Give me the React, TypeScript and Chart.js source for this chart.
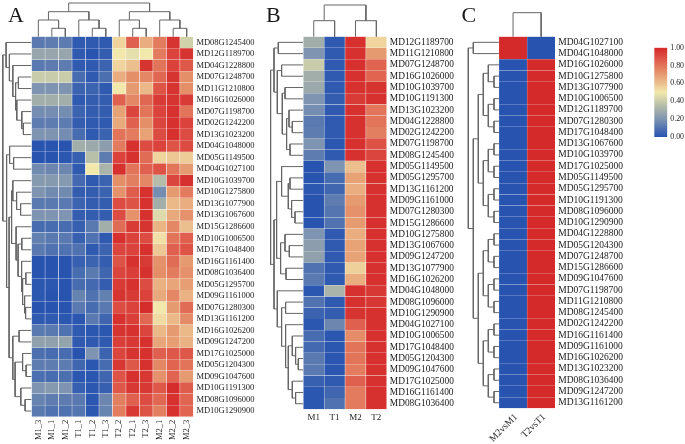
import React, { useEffect, useRef } from "react";
import { Chart, registerables } from "chart.js";

Chart.register(...registerables);

type Tree = number | [number, Tree, Tree];

// Colour legend
const legendTicks = [0, 0.2, 0.4, 0.6, 0.8, 1];
const colorStops: [number, [number, number, number]][] = [
  [0, [40, 84, 176]],
  [0.1, [80, 114, 176]],
  [0.2, [126, 148, 176]],
  [0.3, [162, 174, 170]],
  [0.4, [200, 204, 170]],
  [0.5, [242, 232, 172]],
  [0.6, [236, 192, 142]],
  [0.7, [230, 154, 112]],
  [0.8, [226, 116, 90]],
  [0.9, [220, 76, 66]],
  [1, [212, 42, 42]],
];

// Panel A
const aColumns = ["M1_3", "M1_1", "M1_2", "T1_1", "T1_2", "T1_3", "T2_2", "T2_1", "T2_3", "M2_1", "M2_2", "M2_3"];
const aGenes = [
  "MD08G1245400", "MD12G1189700", "MD04G1228800", "MD07G1248700", "MD11G1210800", "MD16G1026000", "MD07G1198700",
  "MD02G1242200", "MD13G1023200", "MD04G1048000", "MD05G1149500", "MD04G1027100", "MD10G1039700", "MD10G1275800",
  "MD13G1077900", "MD13G1067600", "MD15G1286600", "MD10G1006500", "MD17G1048400", "MD16G1161400", "MD08G1036400",
  "MD05G1295700", "MD09G1161000", "MD07G1280300", "MD13G1161200", "MD16G1026200", "MD09G1247200", "MD17G1025000",
  "MD05G1204300", "MD09G1047600", "MD10G1191300", "MD08G1096000", "MD10G1290900",
];
const aValues = [
  [.12, .13, .13, .02, .02, .02, .55, .85, .65, .78, .97, .42],
  [.27, .27, .27, .02, 0, .03, .5, .47, .5, .78, .93, .97],
  [.12, .13, .13, .02, .02, .05, .55, .6, .97, .8, .93, .87],
  [.4, .4, .4, .08, .02, .09, .65, .73, .75, .83, .97, .73],
  [.2, .2, .2, .05, .05, .02, .5, .7, .62, .88, .97, .73],
  [.3, .3, .3, .02, .03, .03, .85, .75, .83, .95, .97, .95],
  [.18, .18, .18, .05, .03, .03, .68, .92, .8, .93, .98, .8],
  [.13, .13, .13, .03, .02, .02, .66, .85, .73, .92, .98, .93],
  [.2, .2, .18, .08, .02, .05, .8, .78, .68, .9, .98, .9],
  [0, 0, 0, .3, .28, .24, .78, .98, .9, .93, .88, .9],
  [0, 0, .01, .04, .36, .13, .93, .98, .82, .55, .58, .57],
  [.17, .16, .16, .02, .5, .32, .98, .8, .85, .88, .8, .7],
  [.22, .22, .22, .07, .02, .05, .73, .77, .75, .35, .92, .98],
  [.2, .17, .17, .03, .03, .05, .72, .86, .98, .18, .7, .78],
  [.12, .12, .12, .05, .03, .03, .9, .88, .98, .3, .62, .65],
  [.2, .2, .2, .03, .03, .03, .9, .72, .98, .45, .66, .72],
  [.08, .08, .08, .04, .12, .3, .82, .95, .97, .63, .75, .6],
  [.14, .12, .12, .04, .1, .02, .98, .93, .9, .52, .8, .85],
  [.12, .1, .1, .1, .02, .05, .92, .93, .98, .58, .85, .88],
  [0, 0, 0, .04, .05, .03, .88, .98, .95, .72, .82, .7],
  [0, 0, 0, .08, .12, .06, .92, .94, .98, .73, .78, .72],
  [.01, .01, 0, .08, .07, .03, .95, .98, .9, .64, .67, .69],
  [.01, 0, 0, .15, .1, .14, .97, .95, .93, .66, .75, .64],
  [0, 0, 0, .12, .08, .12, .9, .93, .99, .5, .7, .82],
  [.02, .02, .01, .01, .12, .06, .98, .94, .83, .53, .62, .74],
  [.12, .12, .1, .02, .01, .01, .97, .98, .92, .62, .7, .62],
  [.25, .25, .26, .02, .02, .02, .94, .96, .98, .67, .69, .64],
  [.09, .08, .08, 0, .2, .05, .92, .97, .98, .85, .87, .87],
  [.13, .13, .13, .06, .01, .08, .96, .87, .98, .75, .84, .8],
  [.09, .08, .09, .01, .01, .06, .88, .98, .96, .72, .84, .7],
  [.2, .22, .2, .04, .01, .04, .87, .96, .96, .87, .99, .86],
  [.15, .13, .13, .12, .01, .16, .77, .85, .9, .83, .98, .84],
  [.12, .1, .1, .11, .01, .15, .78, .96, .88, .77, .98, .84],
];
const aColumnTree: Tree = [33.7,
  [25, [16.7, 0, [8.4, 1, 2]], [16.7, 3, [8.4, 4, 5]]],
  [25, [16.7, 6, [8.4, 7, 8]], [16.7, 9, [8.4, 10, 11]]],
];
const aRowTree: Tree = [28.8,
  [25.5, 0, [22.2, 1, [18.8, 2, [16, [13.2, 3, 4], [14.8, 5, [9.8, 6, [8.2, 7, 8]]]]]]],
  [25, [22, 9, [18, 10, 11]],
    [22.5,
      [20, [18.8, 12, [15, 13, [11, 14, 15]]],
        [15.5, 16, [13.5, [9.8, 17, 18], [10, 19, [9, [5.8, 20, 21], [7, 22, [6, 23, 24]]]]]]],
      [18.8, [12.5, 25, 26], [16.5, [9, 27, [5.5, 28, 29]], [10.8, 30, [6.5, 31, 32]]]],
    ],
  ],
];

// Panel B
const bColumns = ["M1", "T1", "M2", "T2"];
const bGenes = [
  "MD12G1189700", "MD11G1210800", "MD07G1248700", "MD16G1026000", "MD10G1039700", "MD10G1191300", "MD13G1023200",
  "MD04G1228800", "MD02G1242200", "MD07G1198700", "MD08G1245400", "MD05G1149500", "MD05G1295700", "MD13G1161200",
  "MD09G1161000", "MD07G1280300", "MD15G1286600", "MD10G1275800", "MD13G1067600", "MD09G1247200", "MD13G1077900",
  "MD16G1026200", "MD04G1048000", "MD08G1096000", "MD10G1290900", "MD04G1027100", "MD10G1006500", "MD17G1048400",
  "MD05G1204300", "MD09G1047600", "MD17G1025000", "MD16G1161400", "MD08G1036400",
];
const bValues = [
  [.3, .02, .98, .55], [.2, .02, .98, .7], [.4, .02, .98, .84], [.3, .02, .98, .84], [.28, .02, .98, .97],
  [.2, .03, .95, .98], [.18, .02, .98, .8], [.12, .02, .98, .8], [.13, .02, .98, .77], [.2, .01, .98, .88],
  [.13, .02, .98, .92], [0, .2, .6, .98], [0, .08, .68, .98], [.01, .06, .65, .98], [0, .13, .7, .98],
  [0, .11, .72, .98], [0, .1, .7, .98], [.2, .02, .65, .98], [.24, .02, .68, .98], [.25, .02, .68, .98],
  [.1, .02, .56, .98], [.12, .02, .65, .98], [.01, .32, .98, .96], [.1, .02, .98, .96], [.05, .03, .97, .98],
  [.01, .16, .85, .98], [.08, .01, .74, .98], [.07, .01, .8, .98], [.12, .01, .8, .98], [.12, .01, .78, .98],
  [.04, .02, .85, .98], [.01, .06, .78, .98], [.01, .1, .78, .98],
];
const bColumnTree: Tree = [31.7, [16, 0, 1], [16, 2, 3]];
const bRowTree: Tree = [32.7,
  [29.3, [25, 0, 1],
    [26, [21.7, 2, 3], [21, [18.3, 4, 5], [16.7, [14.3, 6, [11, 7, 8]], [13.3, 9, 10]]]]],
  [29.3,
    [26.7, [21.7, 11, [15, [13.3, 12, 13], [11.7, 14, [8.3, 15, 16]]]],
      [22.7, [18.3, 17, [14, 18, 19]], [17.3, 20, 21]]],
    [26, 22, [21.7, [17.7, 23, 24],
      [17.7, 25, [15, [11, 26, [7.7, 27, [5, 28, 29]]], [11, 30, [7.7, 31, 32]]]]]],
  ],
];

// Panel C
const cColumns = ["M2vsM1", "T2vsT1"];
const cGenes = [
  "MD04G1027100", "MD04G1048000", "MD16G1026000", "MD10G1275800", "MD13G1077900", "MD10G1006500", "MD12G1189700",
  "MD07G1280300", "MD17G1048400", "MD13G1067600", "MD10G1039700", "MD17G1025000", "MD05G1149500", "MD05G1295700",
  "MD10G1191300", "MD08G1096000", "MD10G1290900", "MD04G1228800", "MD05G1204300", "MD07G1248700", "MD15G1286600",
  "MD09G1047600", "MD07G1198700", "MD11G1210800", "MD08G1245400", "MD02G1242200", "MD16G1161400", "MD09G1161000",
  "MD16G1026200", "MD13G1023200", "MD08G1036400", "MD09G1247200", "MD13G1161200",
];
const cM2vsM1 = [1, 1, 0, 0, 0, 0, 0, 0, 0, 0, 0, 0, 0, 0, 0, 0, 0, 0, 0, 0, 0, 0, 0, 0, 0, 0, 0, 0, 0, 0, 0, 0, 0];
const cT2vsT1 = [0, 0, 1, 1, 1, 1, 1, 1, 1, 1, 1, 1, 1, 1, 1, 1, 1, 1, 1, 1, 1, 1, 1, 1, 1, 1, 1, 1, 1, 1, 1, 1, 1];
const cColumnTree: Tree = [24, 0, 1];
const cRowTree: Tree = [30.7,
  [25.7, 0, 1],
  [25.7,
    [20.7,
      [15.7, [10.7, 2, [5, 3, 4]], [10.7, [5, 5, 6], [5, 7, 8]]],
      [15.7, [10.7, [5, 9, 10], [5, 11, 12]], [10.7, [5, 13, 14], [5, 15, 16]]],
    ],
    [20.7,
      [15.7, [10.7, [5, 17, 18], [5, 19, 20]], [10.7, [5, 21, 22], [5, 23, 24]]],
      [15.7, [10.7, [5, 25, 26], [5, 27, 28]], [10.7, [5, 29, 30], [5, 31, 32]]],
    ],
  ],
];

function colorOf(v: number): string {
  for (let i = 1; i < colorStops.length; i++) {
    const [p0, c0] = colorStops[i - 1];
    const [p1, c1] = colorStops[i];
    if (v <= p1) {
      const t = (v - p0) / (p1 - p0);
      const c = c0.map((a, k) => Math.round(a + (c1[k] - a) * t));
      return `rgb(${c[0]},${c[1]},${c[2]})`;
    }
  }
  const c = colorStops[colorStops.length - 1][1];
  return `rgb(${c[0]},${c[1]},${c[2]})`;
}

// Dendrogram segments, separated by gaps, from a merge tree.
function walk(tree: Tree, out: { leaf: number; d: number }[][]): { leaf: number; d: number } {
  if (typeof tree === "number") return { leaf: tree + 0.5, d: 0 };
  const [d, l, r] = tree;
  const a = walk(l, out);
  const b = walk(r, out);
  out.push([
    { leaf: a.leaf, d: a.d },
    { leaf: a.leaf, d },
    { leaf: b.leaf, d },
    { leaf: b.leaf, d: b.d },
  ]);
  return { leaf: (a.leaf + b.leaf) / 2, d };
}

function dendroData(tree: Tree, map: (leaf: number, d: number) => { x: number; y: number }) {
  const paths: { leaf: number; d: number }[][] = [];
  walk(tree, paths);
  const data: { x: number; y: number }[] = [];
  paths.forEach((p) => {
    p.forEach((q) => data.push(map(q.leaf, q.d)));
    data.push({ x: NaN, y: NaN });
  });
  return data;
}

const FONT = "'Liberation Serif'";
const TEXT = "#1a1a1a";

type Panel = {
  columns: string[];
  genes: string[];
  values: number[][];
  columnTree: Tree;
  rowTree: Tree;
  canvasLeft: number;
  canvasWidth: number;
  heatLeft: number;
  heatRight: number;
  heatTop: number;
  heatBottom: number;
  rootLeft: number;
  rootTop: number;
  geneFont: number;
  colFont: number;
  rotation: number;
  colPad: number;
  colOffset: number;
  cellBorder: number;
};

const panels: Panel[] = [
  {
    columns: aColumns, genes: aGenes, values: aValues, columnTree: aColumnTree, rowTree: aRowTree,
    canvasLeft: 0, canvasWidth: 262, heatLeft: 31.6, heatRight: 193.4, heatTop: 36.7, heatBottom: 416.8,
    rootLeft: 2.7, rootTop: 3, geneFont: 8.5, colFont: 8.5, rotation: 90, colPad: 3, colOffset: 0, cellBorder: 0.5,
  },
  {
    columns: bColumns, genes: bGenes, values: bValues, columnTree: bColumnTree, rowTree: bRowTree,
    canvasLeft: 265, canvasWidth: 195, heatLeft: 303.3, heatRight: 386.8, heatTop: 36.7, heatBottom: 409.4,
    rootLeft: 270.6, rootTop: 5, geneFont: 9.4, colFont: 9, rotation: 0, colPad: 3, colOffset: 0, cellBorder: 0.5,
  },
  {
    columns: cColumns, genes: cGenes, values: [], columnTree: cColumnTree, rowTree: cRowTree,
    canvasLeft: 462, canvasWidth: 180, heatLeft: 499, heatRight: 555.2, heatTop: 36.7, heatBottom: 408.4,
    rootLeft: 468.3, rootTop: 12.7, geneFont: 9.5, colFont: 9.6, rotation: 45, colPad: 3, colOffset: 3, cellBorder: 0.4,
  },
];
panels[2].values = cGenes.map((_, i) => [cM2vsM1[i], cT2vsT1[i]]);

function buildHeatConfig(p: Panel): any {
  const colW = (p.heatRight - p.heatLeft) / p.columns.length;
  const rowH = (p.heatBottom - p.heatTop) / p.genes.length;
  const cells: { x: number; y: [number, number]; v: number }[] = [];
  p.values.forEach((row, r) =>
    row.forEach((v, c) => cells.push({ x: c + 0.5, y: [r, r + 1], v }))
  );
  const lineBase = {
    type: "line",
    borderColor: "#666666",
    borderWidth: 1,
    pointRadius: 0,
    tension: 0,
    spanGaps: false,
    clip: false,
  };
  return {
    type: "bar",
    data: {
      datasets: [
        {
          type: "bar",
          data: cells,
          backgroundColor: (ctx: any) => (ctx.raw ? colorOf(ctx.raw.v) : "#fff"),
          borderColor: "rgba(255,255,255,0.75)",
          borderWidth: p.cellBorder,
          barPercentage: 1,
          categoryPercentage: 1,
          grouped: false,
        },
        { ...lineBase, data: dendroData(p.columnTree, (leaf, d) => ({ x: leaf, y: -d / rowH })) },
        { ...lineBase, data: dendroData(p.rowTree, (leaf, d) => ({ x: -d / colW, y: leaf })) },
      ],
    },
    options: {
      animation: false,
      responsive: false,
      layout: { padding: { left: p.rootLeft - p.canvasLeft, top: p.rootTop, right: 0, bottom: 0 } },
      plugins: { legend: { display: false }, tooltip: { enabled: false }, title: { display: false } },
      scales: {
        x: {
          type: "linear",
          offset: false,
          min: -(p.heatLeft - p.rootLeft) / colW,
          max: p.columns.length,
          grid: { display: false, drawTicks: false },
          border: { display: false },
          afterBuildTicks: (s: any) => {
            s.ticks = p.columns.map((_, i) => ({ value: i + 0.5 }));
          },
          afterFit: (s: any) => {
            s.height = 444 - p.heatBottom;
            s.paddingLeft = 0;
            s.paddingRight = 0;
          },
          ticks: {
            autoSkip: false,
            minRotation: p.rotation,
            maxRotation: p.rotation,
            padding: p.colPad,
            labelOffset: p.colOffset,
            color: TEXT,
            font: { family: FONT, size: p.colFont },
            callback: (_: any, i: number) => p.columns[i],
          },
        },
        y: {
          type: "linear",
          position: "right",
          reverse: true,
          min: -(p.heatTop - p.rootTop) / rowH,
          max: p.genes.length,
          grid: { display: false, drawTicks: false },
          border: { display: false },
          afterBuildTicks: (s: any) => {
            s.ticks = p.genes.map((_, i) => ({ value: i + 0.5 }));
          },
          afterFit: (s: any) => {
            s.width = p.canvasLeft + p.canvasWidth - p.heatRight;
            s.paddingTop = 0;
            s.paddingBottom = 0;
          },
          ticks: {
            autoSkip: false,
            padding: 3,
            color: TEXT,
            font: { family: FONT, size: p.geneFont },
            callback: (_: any, i: number) => p.genes[i],
          },
        },
      },
    },
  };
}

function HeatPanel({ panel }: { panel: Panel }) {
  const ref = useRef<HTMLCanvasElement>(null);
  useEffect(() => {
    const chart = new Chart(ref.current!, buildHeatConfig(panel));
    return () => chart.destroy();
  }, [panel]);
  return (
    <canvas
      ref={ref}
      width={panel.canvasWidth}
      height={444}
      style={{ position: "absolute", left: panel.canvasLeft, top: 0, width: panel.canvasWidth, height: 444 }}
    />
  );
}

function ColorLegend() {
  const ref = useRef<HTMLCanvasElement>(null);
  useEffect(() => {
    const chart = new Chart(ref.current!, {
      type: "bar",
      data: {
        labels: ["scale"],
        datasets: [
          {
            data: [[0, 1]],
            barPercentage: 1,
            categoryPercentage: 1,
            backgroundColor: (ctx: any) => {
              const area = ctx.chart.chartArea;
              if (!area) return colorOf(0.5);
              const g = ctx.chart.ctx.createLinearGradient(0, area.bottom, 0, area.top);
              colorStops.forEach(([p, c]) => g.addColorStop(p, `rgb(${c[0]},${c[1]},${c[2]})`));
              return g;
            },
          },
        ],
      },
      options: {
        animation: false,
        responsive: false,
        layout: { padding: { left: 9.3, top: 47.7, bottom: 444 - 137 } },
        plugins: { legend: { display: false }, tooltip: { enabled: false } },
        scales: {
          x: { display: false },
          y: {
            position: "right",
            min: 0,
            max: 1,
            grid: { display: false, drawTicks: true, tickLength: 2, tickColor: "#555" },
            border: { display: false },
            afterBuildTicks: (s: any) => {
              s.ticks = legendTicks.map((value) => ({ value }));
            },
            afterFit: (s: any) => {
              s.width = 40 - 22.3;
              s.paddingTop = 0;
              s.paddingBottom = 0;
            },
            ticks: {
              padding: 1,
              color: TEXT,
              font: { family: FONT, size: 7.8 },
              callback: (v: any) => Number(v).toFixed(2),
            },
          },
        },
      },
    } as any);
    return () => chart.destroy();
  }, []);
  return (
    <canvas
      ref={ref}
      width={40}
      height={444}
      style={{ position: "absolute", left: 645, top: 0, width: 40, height: 444 }}
    />
  );
}

const letters: [string, number, number][] = [
  ["A", 8, 3],
  ["B", 266, 3],
  ["C", 461.5, 3],
];

export default function App() {
  return (
    <div style={{ position: "fixed", left: 0, top: 0, width: 685, height: 444, background: "#fff", overflow: "hidden" }}>
      {panels.map((p, i) => (
        <HeatPanel key={i} panel={p} />
      ))}
      <ColorLegend />
      {letters.map(([t, x, y]) => (
        <div
          key={t}
          style={{ position: "absolute", left: x, top: y, fontFamily: FONT, fontSize: 22, lineHeight: "24px", color: TEXT }}
        >
          {t}
        </div>
      ))}
    </div>
  );
}
